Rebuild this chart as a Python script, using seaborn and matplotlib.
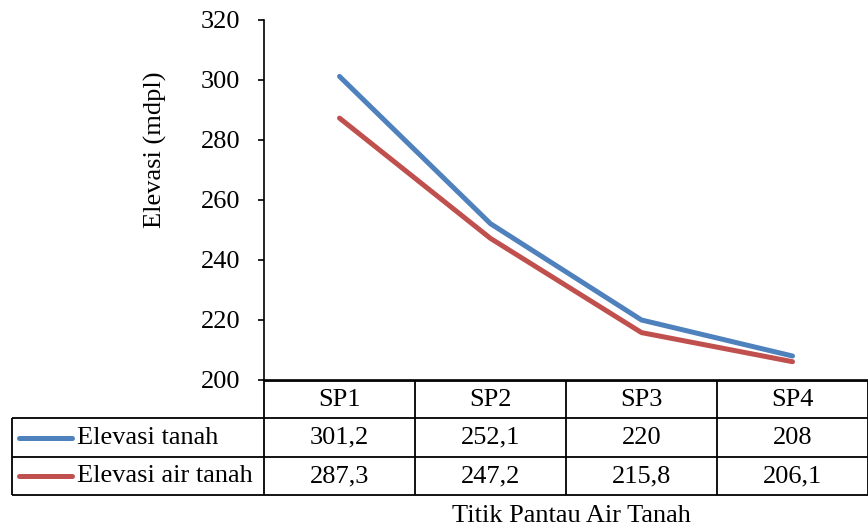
import matplotlib
matplotlib.use("Agg")
import matplotlib.pyplot as plt
import seaborn as sns
import pandas as pd

categories = ["SP1", "SP2", "SP3", "SP4"]
series_names = ["Elevasi tanah", "Elevasi air tanah"]
elevasi_tanah = [301.2, 252.1, 220, 208]
elevasi_air_tanah = [287.3, 247.2, 215.8, 206.1]
y_ticks = [200, 220, 240, 260, 280, 300, 320]
colors = ["#4F81BD", "#C0504D"]

sns.set_theme(style="white")
plt.rcParams["font.family"] = ["Liberation Serif", "DejaVu Serif"]
FS = 19

df = pd.DataFrame({
    "pos": list(range(len(categories))) * 2,
    "value": elevasi_tanah + elevasi_air_tanah,
    "series": [series_names[0]] * len(categories) + [series_names[1]] * len(categories),
})

W, H = 868, 529
fig = plt.figure(figsize=(W / 100, H / 100), dpi=100)
ax = fig.add_axes([264 / W, (H - 380) / H, 604 / W, 360 / H])

sns.lineplot(data=df, x="pos", y="value", hue="series", palette=colors,
             linewidth=3.6, ax=ax, legend=False, solid_capstyle="round")

ax.set_xlim(-0.5, len(categories) - 0.5)
ax.set_ylim(200, 320)
ax.set_yticks(y_ticks)
ax.set_yticklabels([str(t) for t in y_ticks], fontsize=FS, color="black")
ax.set_xticks([])
ax.set_xlabel("")
for s in ["top", "right"]:
    ax.spines[s].set_visible(False)
for s in ["left", "bottom"]:
    ax.spines[s].set_color("black")
    ax.spines[s].set_linewidth(1.2)
ax.tick_params(axis="y", direction="out", length=4, width=1.2, color="black", left=True, pad=13)

tr = ax.transAxes
axh = 360.0
axw = 604.0
def fy(py):
    return -(py - 380) / axh
def fx(px):
    return (px - 264) / axw

ax.set_ylabel("Elevasi (mdpl)", fontsize=FS, color="black", va="center")
ax.yaxis.set_label_coords(fx(155), fy(150))

row_y = [381, 418, 457, 495]
left_px = 12
ncol = len(categories)
col_x = [fx(264 + i * axw / ncol) for i in range(ncol + 1)]
lw = 1.3
kw = dict(color="black", lw=lw, transform=tr, clip_on=False, solid_capstyle="butt")
ax.plot([0, 1], [fy(row_y[0])] * 2, **kw)
for py in row_y[1:]:
    ax.plot([fx(left_px), 1], [fy(py)] * 2, **kw)
ax.plot([fx(left_px)] * 2, [fy(row_y[1]), fy(row_y[3])], **kw)
for x in col_x:
    ax.plot([x] * 2, [fy(row_y[0]), fy(row_y[3])], **kw)

def fmt(v):
    return f"{v:g}".replace(".", ",")

for i, c in enumerate(categories):
    xc = (col_x[i] + col_x[i + 1]) / 2
    ax.text(xc, fy((row_y[0] + row_y[1]) / 2), c, ha="center", va="center",
            fontsize=FS, transform=tr, color="black")
    for r, vals in enumerate([elevasi_tanah, elevasi_air_tanah]):
        ax.text(xc, fy((row_y[r + 1] + row_y[r + 2]) / 2), fmt(vals[i]),
                ha="center", va="center", fontsize=FS, transform=tr, color="black")

for r, name in enumerate(series_names):
    yc = fy((row_y[r + 1] + row_y[r + 2]) / 2)
    ax.plot([fx(19), fx(72)], [yc, yc], color=colors[r], lw=3.6, transform=tr,
            clip_on=False, solid_capstyle="round")
    ax.text(fx(77), yc, name, ha="left", va="center", fontsize=FS, transform=tr, color="black")

ax.text(fx(571), fy(516), "Titik Pantau Air Tanah", ha="center", va="center",
        fontsize=FS, transform=tr, color="black")

fig.savefig("out.png", dpi=100)
